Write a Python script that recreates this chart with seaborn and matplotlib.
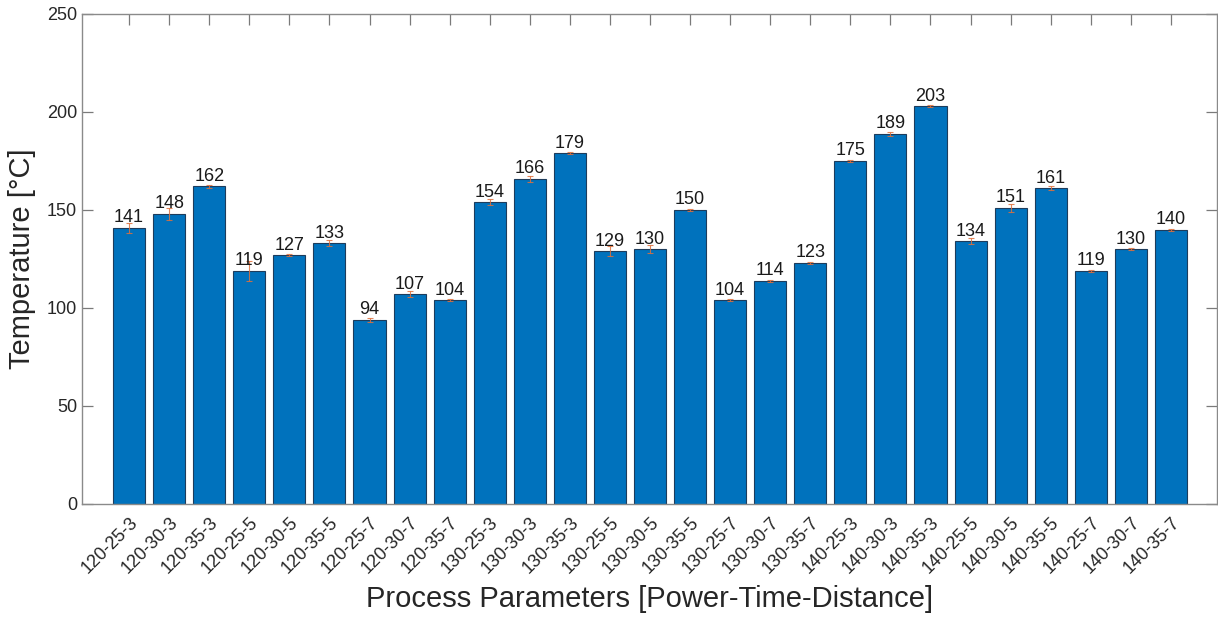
import matplotlib
matplotlib.use("Agg")
import matplotlib.pyplot as plt
import seaborn as sns
import pandas as pd

# Process parameter combinations (Power-Time-Distance)
categories = [
    "120-25-3", "120-30-3", "120-35-3", "120-25-5", "120-30-5", "120-35-5",
    "120-25-7", "120-30-7", "120-35-7", "130-25-3", "130-30-3", "130-35-3",
    "130-25-5", "130-30-5", "130-35-5", "130-25-7", "130-30-7", "130-35-7",
    "140-25-3", "140-30-3", "140-35-3", "140-25-5", "140-30-5", "140-35-5",
    "140-25-7", "140-30-7", "140-35-7",
]
temperatures = [
    141, 148, 162, 119, 127, 133, 94, 107, 104, 154, 166, 179, 129, 130,
    150, 104, 114, 123, 175, 189, 203, 134, 151, 161, 119, 130, 140,
]
errors = [
    2.5, 3.0, 1.0, 5.0, 0.5, 1.5, 1.0, 1.5, 0.5, 1.5, 1.5, 0.5, 2.5, 2.0,
    0.5, 0.5, 0.5, 0.5, 0.5, 1.0, 0.5, 1.5, 2.0, 1.0, 0.5, 0.5, 0.5,
]
y_ticks = [0, 50, 100, 150, 200, 250]

df = pd.DataFrame({"param": categories, "temp": temperatures, "err": errors})

sns.set_theme(style="white")
plt.rcParams["font.family"] = ["Liberation Sans", "DejaVu Sans"]

fig = plt.figure(figsize=(12.18, 6.22), dpi=100)
ax = fig.add_axes([82 / 1218, 118 / 622, 1135 / 1218, 490 / 622])

bar_color = "#0072BD"
sns.barplot(data=df, x="param", y="temp", color=bar_color, saturation=1,
            errorbar=None, width=0.8, edgecolor="#1d3c5c", linewidth=0.8, ax=ax)

ax.errorbar(range(len(categories)), temperatures, yerr=errors, fmt="none",
            ecolor="#E0703C", elinewidth=0.8, capsize=2.5, capthick=0.8,
            alpha=0.85, zorder=3)

for i, v in enumerate(temperatures):
    ax.text(i, v + 0.8, f"{v}", ha="center", va="bottom", fontsize=13,
            color="#1a1a1a", zorder=4)

ax.set_xlim(-1.175, len(categories) - 1 + 1.15)
ax.set_ylim(0, 250)
ax.set_yticks(y_ticks)

ax.set_xticks(range(len(categories)))
ax.set_xticklabels(categories, rotation=45, ha="right", rotation_mode="anchor",
                   fontsize=13, color="#262626")
ax.tick_params(axis="y", labelsize=13, labelcolor="#262626")
ax.tick_params(axis="both", which="both", direction="in", length=8, width=0.9,
               color="#7a7a7a", top=True, right=True, bottom=True, left=True)
ax.tick_params(axis="x", pad=7)

for s in ax.spines.values():
    s.set_color("#8a8a8a")
    s.set_linewidth(1.0)

ax.set_xlabel("Process Parameters [Power-Time-Distance]", fontsize=21,
              color="#262626", labelpad=6)
ax.set_ylabel("Temperature [°C]", fontsize=21, color="#262626", labelpad=8)

fig.savefig("out.png", dpi=100)
